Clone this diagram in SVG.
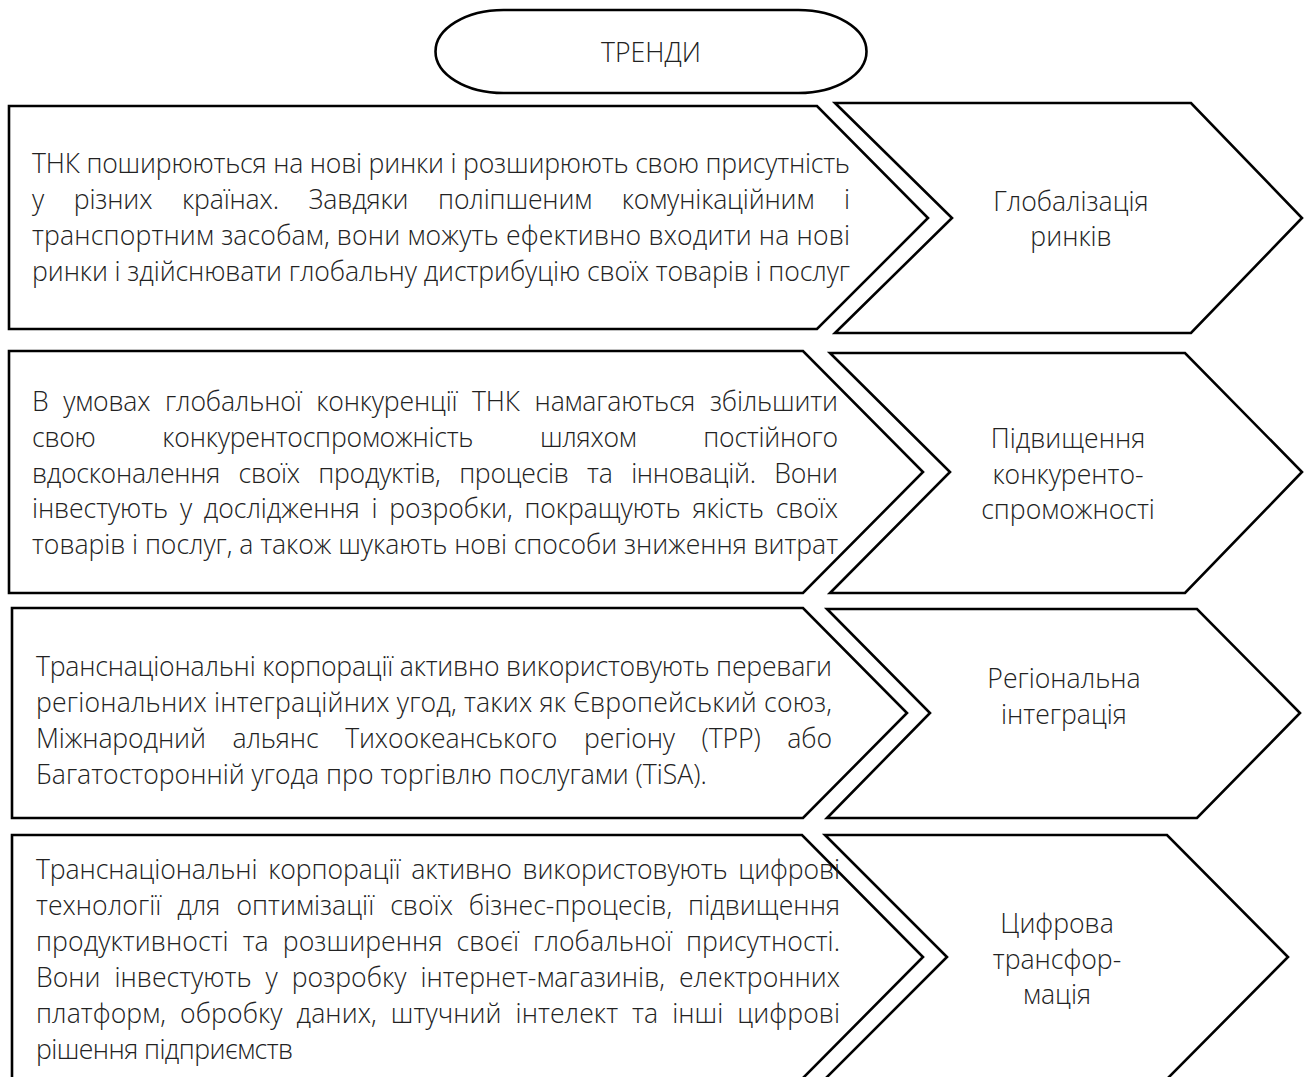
<svg xmlns="http://www.w3.org/2000/svg" width="1307" height="1077" viewBox="0 0 1307 1077">
<style>
.shape{fill:#ffffff;stroke:#000000;stroke-width:2.6;stroke-linejoin:miter}
.t{font-family:"Open Sans","Noto Sans","DejaVu Sans",sans-serif;font-weight:300;font-size:26.6px;fill:#222222}
.c{text-anchor:middle}
</style>
<rect width="1307" height="1077" fill="#ffffff"/>
<g id="trendy">
<rect class="shape" x="435.5" y="10" width="431" height="83" rx="68" ry="41.5"/>
<text class="t c" x="651" y="62">ТРЕНДИ</text>
</g>
<g id="connectors"></g>
<g id="row1-text">
<polygon class="shape" points="9,106 817,106 928,218 817,329 9,329"/>
<text class="t" x="32" y="173" textLength="818" lengthAdjust="spacing">ТНК поширюються на нові ринки і розширюють свою присутність</text>
<text class="t" x="32" y="209" textLength="818" lengthAdjust="spacing" style="word-spacing:23px">у різних країнах. Завдяки поліпшеним комунікаційним і</text>
<text class="t" x="32" y="245" textLength="818" lengthAdjust="spacing">транспортним засобам, вони можуть ефективно входити на нові</text>
<text class="t" x="32" y="281" textLength="818" lengthAdjust="spacing">ринки і здійснювати глобальну дистрибуцію своїх товарів і послуг</text>
</g>
<g id="row1-label">
<polygon class="shape" points="835,103 1191,103 1302,218 1191,333 835,333 952,218"/>
<text class="t c" x="1071" y="211">Глобалізація</text>
<text class="t c" x="1071" y="246">ринків</text>
</g>
<g id="row2-text">
<polygon class="shape" points="9,351 803,351 923,472 803,593 9,593"/>
<text class="t" x="32" y="411" textLength="806" lengthAdjust="spacing" style="word-spacing:8px">В умовах глобальної конкуренції ТНК намагаються збільшити</text>
<text class="t" x="32" y="447" textLength="806" lengthAdjust="spacing" style="word-spacing:60px">свою конкурентоспроможність шляхом постійного</text>
<text class="t" x="32" y="483" textLength="806" lengthAdjust="spacing" style="word-spacing:12px">вдосконалення своїх продуктів, процесів та інновацій. Вони</text>
<text class="t" x="32" y="518" textLength="806" lengthAdjust="spacing" style="word-spacing:5px">інвестують у дослідження і розробки, покращують якість своїх</text>
<text class="t" x="32" y="554" textLength="806" lengthAdjust="spacing">товарів і послуг, а також шукають нові способи зниження витрат</text>
</g>
<g id="row2-label">
<polygon class="shape" points="830,353 1185,353 1302,472 1185,593 830,593 950,472"/>
<text class="t c" x="1068" y="448">Підвищення</text>
<text class="t c" x="1068" y="484">конкуренто-</text>
<text class="t c" x="1068" y="519">спроможності</text>
</g>
<g id="row3-text">
<polygon class="shape" points="12,608 803,608 907,713 803,818 12,818"/>
<text class="t" x="36" y="676" textLength="796" lengthAdjust="spacing">Транснаціональні корпорації активно використовують переваги</text>
<text class="t" x="36" y="712" textLength="796" lengthAdjust="spacing">регіональних інтеграційних угод, таких як Європейський союз,</text>
<text class="t" x="36" y="748" textLength="796" lengthAdjust="spacing" style="word-spacing:20px">Міжнародний альянс Тихоокеанського регіону (ТРР) або</text>
<text class="t" x="36" y="784">Багатосторонній угода про торгівлю послугами (TiSA).</text>
</g>
<g id="row3-label">
<polygon class="shape" points="827,609 1197,609 1300,713 1197,818 827,818 930,713"/>
<text class="t c" x="1064" y="688">Регіональна</text>
<text class="t c" x="1064" y="724">інтеграція</text>
</g>
<g id="row4-text">
<polygon class="shape" points="12,835 802,835 923,957 802,1079 12,1079"/>
<text class="t" x="36" y="879" textLength="804" lengthAdjust="spacing" style="word-spacing:4px">Транснаціональні корпорації активно використовують цифрові</text>
<text class="t" x="36" y="915" textLength="804" lengthAdjust="spacing" style="word-spacing:9px">технології для оптимізації своїх бізнес-процесів, підвищення</text>
<text class="t" x="36" y="951" textLength="804" lengthAdjust="spacing" style="word-spacing:7px">продуктивності та розширення своєї глобальної присутності.</text>
<text class="t" x="36" y="987" textLength="804" lengthAdjust="spacing" style="word-spacing:7px">Вони інвестують у розробку інтернет-магазинів, електронних</text>
<text class="t" x="36" y="1023" textLength="804" lengthAdjust="spacing" style="word-spacing:7px">платформ, обробку даних, штучний інтелект та інші цифрові</text>
<text class="t" x="36" y="1059" textLength="257" lengthAdjust="spacing">рішення підприємств</text>
</g>
<g id="row4-label">
<polygon class="shape" points="825,835 1167,835 1288,957 1167,1079 825,1079 947,957"/>
<text class="t c" x="1057" y="933">Цифрова</text>
<text class="t c" x="1057" y="969">трансфор-</text>
<text class="t c" x="1057" y="1004">мація</text>
</g>
</svg>
